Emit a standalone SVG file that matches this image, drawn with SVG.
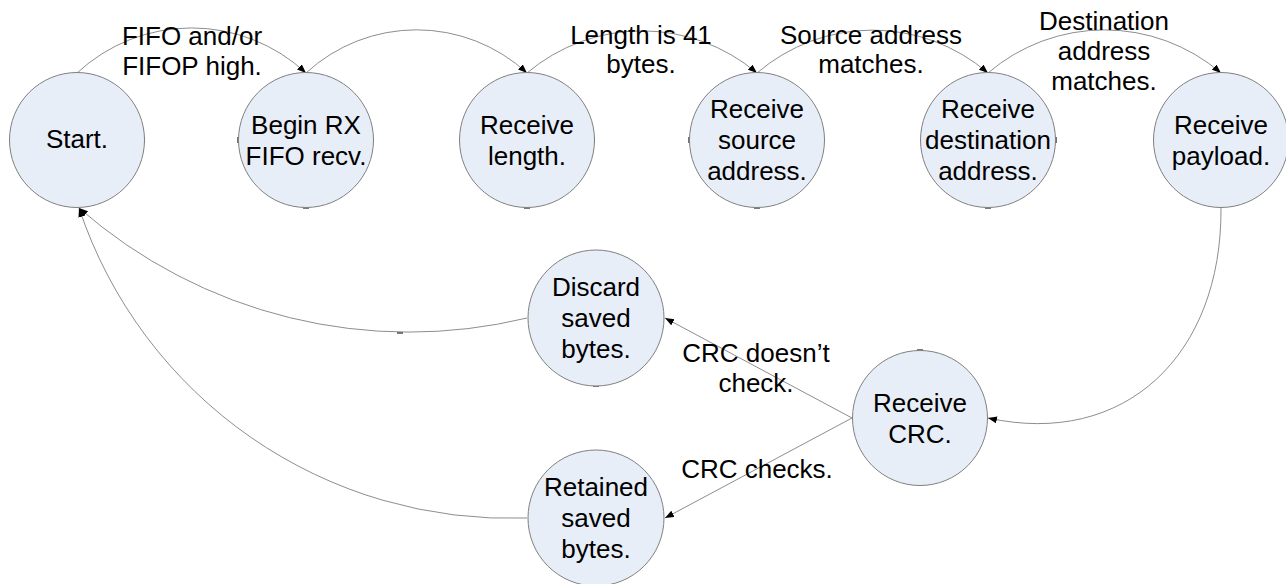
<svg xmlns="http://www.w3.org/2000/svg" width="1286" height="584" viewBox="0 0 1286 584">
<style>
.node{fill:#E8EEF7;stroke:#808080;stroke-width:1}
.lbl{font-family:"Liberation Sans",Arial,sans-serif;font-size:26px;fill:#000;text-anchor:middle}
.con{fill:none;stroke:#707070;stroke-width:0.8}
.tick{stroke:#505050;stroke-width:1.6;fill:none}
</style>
<defs>
<marker id="arr" markerUnits="userSpaceOnUse" markerWidth="10" markerHeight="8" refX="9" refY="3.5" orient="auto">
<path d="M0,0 L9,3.5 L0,7 z" fill="#000"/>
</marker>
</defs>
<rect width="1286" height="584" fill="#fff"/>
<g id="connectors">
<path class="con" d="M77,73 A168,168 0 0,1 306,73" marker-end="url(#arr)"/>
<path class="con" d="M306,73 A163,163 0 0,1 527,73" marker-end="url(#arr)"/>
<path class="con" d="M527,73 A178,178 0 0,1 757,73" marker-end="url(#arr)"/>
<path class="con" d="M757,73 A177,177 0 0,1 988,73" marker-end="url(#arr)"/>
<path class="con" d="M988,73 A179,179 0 0,1 1221,73" marker-end="url(#arr)"/>
<path class="con" d="M1221,208 C1222,355 1125,448 988,418" marker-end="url(#arr)"/>
<path class="con" d="M852,418 L665,318" marker-end="url(#arr)"/>
<path class="con" d="M852,418 L665,518" marker-end="url(#arr)"/>
<path class="con" d="M527,318 A501,501 0 0,1 79,208" marker-end="url(#arr)"/>
<path class="con" d="M527,518 A454,454 0 0,1 79,208" marker-end="url(#arr)"/>
</g>
<g id="ticks">
<path class="tick" d="M144,137 v6 M238,137 v6 M594,137 v6 M689,137 v6 M1056,137 v6 M303,208 h6 M524,208 h6 M754,208 h6 M985,208 h6 M593,386 h6 M917,350 h6 M397,333 h6"/>
</g>
<g id="start"><circle class="node" cx="77" cy="140" r="67.5"/><text class="lbl" x="77" y="148">Start.</text></g>
<g id="beginrx"><circle class="node" cx="306" cy="140" r="67.5"/><text class="lbl" x="306" y="134">Begin RX</text><text class="lbl" x="306" y="165">FIFO recv.</text></g>
<g id="length"><circle class="node" cx="527" cy="140" r="67.5"/><text class="lbl" x="527" y="134">Receive</text><text class="lbl" x="527" y="165">length.</text></g>
<g id="source"><circle class="node" cx="757" cy="140" r="67.5"/><text class="lbl" x="757" y="118">Receive</text><text class="lbl" x="757" y="149">source</text><text class="lbl" x="757" y="180">address.</text></g>
<g id="dest"><circle class="node" cx="988" cy="140" r="67.5"/><text class="lbl" x="988" y="118">Receive</text><text class="lbl" x="988" y="149">destination</text><text class="lbl" x="988" y="180">address.</text></g>
<g id="payload"><circle class="node" cx="1221" cy="140" r="67.5"/><text class="lbl" x="1221" y="134">Receive</text><text class="lbl" x="1221" y="165">payload.</text></g>
<g id="discard"><circle class="node" cx="596" cy="318" r="68"/><text class="lbl" x="596" y="296">Discard</text><text class="lbl" x="596" y="327">saved</text><text class="lbl" x="596" y="358">bytes.</text></g>
<g id="retained"><circle class="node" cx="596" cy="518" r="68"/><text class="lbl" x="596" y="496">Retained</text><text class="lbl" x="596" y="527">saved</text><text class="lbl" x="596" y="558">bytes.</text></g>
<g id="crc"><circle class="node" cx="920" cy="418" r="67.5"/><text class="lbl" x="920" y="412">Receive</text><text class="lbl" x="920" y="443">CRC.</text></g>
<g id="labels">
<text class="lbl" x="192" y="45">FIFO and/or</text>
<text class="lbl" x="192" y="75">FIFOP high.</text>
<text class="lbl" x="641" y="44">Length is 41</text>
<text class="lbl" x="641" y="73">bytes.</text>
<text class="lbl" x="871" y="44">Source address</text>
<text class="lbl" x="871" y="73">matches.</text>
<text class="lbl" x="1104" y="30">Destination</text>
<text class="lbl" x="1104" y="60">address</text>
<text class="lbl" x="1104" y="90">matches.</text>
<text class="lbl" x="756" y="362">CRC doesn’t</text>
<text class="lbl" x="756" y="392">check.</text>
<text class="lbl" x="757" y="478">CRC checks.</text>
</g>
</svg>
